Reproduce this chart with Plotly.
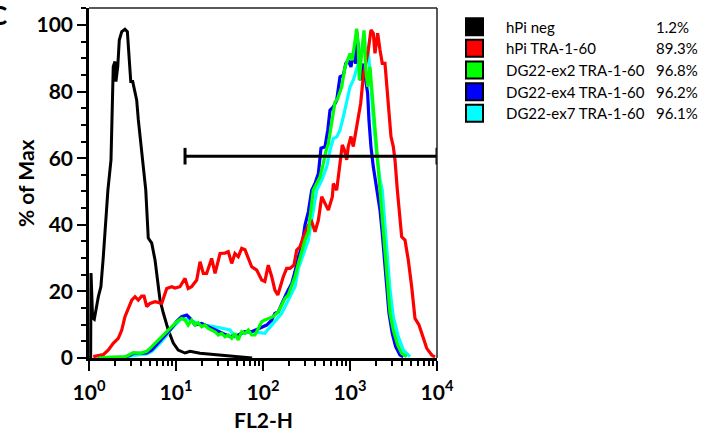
import plotly.graph_objects as go

# ---------------- data (FL2-H intensity, % of max) ----------------
hpi_neg = [(1.045, 0), (1.055, 25.5), (1.10, 12.0), (1.15, 11.6), (1.28, 18.4), (1.37, 21.4),
           (1.46, 30.4), (1.56, 40.5), (1.65, 50.5), (1.79, 59.5), (1.85, 71.5), (1.90, 87.5),
           (1.99, 89.0), (2.04, 83.0), (2.14, 87.5), (2.23, 95.5), (2.38, 98.0), (2.59, 98.7),
           (2.76, 98.0), (2.88, 91.6), (3.02, 83.0), (3.18, 83.0), (3.38, 79.6), (3.53, 77.5),
           (3.69, 71.5), (3.96, 63.5), (4.21, 57.5), (4.49, 50.5), (4.80, 36.0), (5.26, 34.5),
           (5.74, 29.4), (6.16, 22.5), (6.55, 17.4), (7.15, 13.5), (8.15, 8.4), (9.31, 4.5),
           (10.6, 2.4), (12.7, 1.5), (14.5, 2.0), (18.9, 1.4), (26.6, 1.0), (41.8, 0.5),
           (60.0, 0.1), (75.0, 0)]

hpi_tra = [(1.12, 0.4), (1.46, 1.0), (1.67, 2.4), (1.90, 4.4), (2.17, 5.9), (2.38, 8.4), (2.59, 12.4),
           (2.83, 14.9), (3.10, 17.4), (3.38, 18.4), (3.69, 17.4), (4.03, 18.6), (4.29, 18.6),
           (4.61, 15.4), (5.02, 16.4), (5.74, 16.9), (6.85, 16.4), (7.82, 20.9), (8.93, 21.4),
           (9.74, 21.0), (11.1, 21.4), (12.7, 23.9), (13.8, 20.9), (15.1, 21.4), (17.3, 23.4),
           (18.9, 28.9), (20.6, 25.4), (22.5, 25.4), (25.7, 29.9), (28.1, 25.4), (32.1, 31.4),
           (36.6, 31.5), (39.9, 31.9), (43.7, 28.4), (47.6, 31.4), (52.0, 30.4), (56.9, 32.9),
           (62.1, 32.5), (67.8, 30.0), (74.1, 27.4), (84.7, 26.4), (96.6, 23.4), (105, 23.0),
           (115, 27.9), (126, 24.4), (137, 20.4), (148, 18.9), (157, 21.4), (171, 24.4),
           (187, 26.9), (204, 26.9), (227, 27.9), (244, 32.4), (266, 33.4), (291, 36.4),
           (332, 39.9), (363, 40.9), (396, 37.9), (433, 41.4), (473, 48.4), (516, 46.4),
           (564, 44.4), (627, 48.4), (643, 52.4), (703, 50.4), (767, 58.4), (815, 64.0),
           (860, 62.5), (916, 59.5), (955, 63.5), (1026, 66.5), (1091, 63.5), (1164, 67.5),
           (1245, 71.5), (1327, 76.5), (1422, 84.5), (1514, 88.5), (1622, 92.5), (1742, 98.5),
           (1853, 97.5), (1937, 91.5), (2080, 97.5), (2213, 92.5), (2350, 88.5), (2523, 88.5),
           (2640, 81.5), (2807, 71.5), (2958, 66.5), (3145, 63.5), (3289, 59.5), (3499, 50.5),
           (3757, 42.4), (3928, 36.4), (4287, 35.4), (4677, 29.4), (5117, 21.4), (5585, 11.9),
           (6209, 9.9), (6966, 5.9), (7621, 2.9), (8695, 0.9), (9485, 0.3)]

dg22_ex2 = [(1.28, 0), (1.74, 0.3), (2.59, 0.3), (2.96, 1.0), (3.23, 1.6), (3.86, 1.4), (4.61, 2.0),
            (5.26, 3.4), (6.00, 4.9), (6.85, 6.4), (7.82, 7.9), (8.93, 9.4), (10.2, 10.9),
            (11.6, 11.9), (12.7, 11.4), (13.8, 9.9), (15.1, 11.4), (16.5, 9.9), (18.0, 10.6),
            (19.7, 9.4), (21.5, 9.9), (23.5, 8.9), (25.7, 8.4), (28.1, 7.9), (30.6, 6.9),
            (33.5, 7.4), (36.6, 6.4), (39.9, 6.9), (43.7, 5.9), (47.6, 7.4), (52.0, 5.4),
            (56.9, 7.9), (62.1, 7.4), (67.8, 8.4), (74.1, 6.9), (80.9, 6.9), (88.3, 8.9),
            (96.6, 10.9), (105, 11.4), (115, 11.9), (131, 12.4), (150, 13.9), (164, 15.9),
            (179, 17.9), (195, 18.9), (214, 21.9), (233, 24.4), (255, 28.4), (279, 32.4),
            (304, 35.4), (332, 37.9), (356, 45.0), (378, 50.4), (414, 52.4), (452, 54.4),
            (493, 58.4), (526, 61.9), (564, 64.4), (617, 71.4), (673, 76.9), (722, 77.9),
            (803, 81.4), (877, 87.4), (942, 89.4), (1000, 91.4), (1062, 89.4), (1119, 93.4),
            (1194, 98.9), (1245, 93.4), (1279, 83.4), (1361, 91.4), (1449, 98.4), (1514, 87.4),
            (1596, 81.4), (1698, 87.4), (1774, 81.4), (1871, 73.4), (1972, 64.4), (2113, 55.4),
            (2213, 50.4), (2350, 42.4), (2523, 32.4), (2710, 21.4), (2884, 13.4), (3145, 8.4),
            (3532, 3.9), (3928, 1.4), (4487, 0.4)]

dg22_ex4 = [(1.28, 0), (2.59, 0.3), (2.96, 0.8), (3.23, 1.4), (3.86, 1.4), (4.61, 1.5), (5.26, 2.4),
            (6.00, 4.0), (6.85, 5.9), (7.82, 7.4), (8.93, 9.0), (10.2, 11.0), (11.6, 12.4),
            (13.3, 12.9), (14.5, 11.9), (16.5, 9.9), (19.7, 10.4), (23.5, 9.4), (28.1, 8.4),
            (33.5, 7.4), (41.8, 6.4), (52.0, 6.9), (62.1, 7.9), (74.1, 7.9), (92.4, 8.9),
            (110, 9.9), (126, 11.4), (137, 13.4), (150, 13.9), (164, 16.4), (179, 18.4),
            (195, 20.4), (214, 22.4), (233, 25.9), (255, 30.4), (279, 33.4), (304, 39.9),
            (332, 43.9), (363, 50.4), (396, 52.4), (433, 55.4), (464, 63.0), (516, 63.4),
            (555, 68.4), (589, 74.4), (643, 75.4), (703, 77.4), (767, 84.4), (838, 84.9),
            (893, 88.4), (955, 89.4), (1026, 87.4), (1091, 91.4), (1164, 88.4), (1194, 98.0),
            (1245, 93.4), (1327, 83.4), (1422, 88.4), (1514, 83.4), (1596, 79.4), (1652, 71.4),
            (1742, 63.4), (1853, 57.4), (2028, 50.4), (2213, 44.4), (2350, 37.4), (2477, 30.4),
            (2640, 21.4), (2807, 13.4), (3062, 7.4), (3350, 3.4), (3757, 0.9), (4100, 0.4)]

dg22_ex7 = [(1.28, 0), (2.59, 0.2), (3.23, 0.8), (4.61, 1.2), (5.26, 2.0), (6.00, 3.5), (6.85, 5.0),
            (7.82, 6.9), (8.93, 8.9), (10.2, 10.4), (11.6, 11.9), (14.5, 11.4), (18.0, 10.4),
            (21.5, 9.9), (28.1, 9.4), (41.8, 8.4), (47.6, 6.4), (56.9, 7.4), (77.4, 7.9),
            (105, 7.4), (126, 9.9), (144, 11.4), (164, 13.4), (187, 16.4), (214, 19.4),
            (233, 21.4), (255, 26.9), (291, 31.4), (332, 35.4), (366, 42.0), (414, 50.4),
            (473, 53.4), (540, 57.4), (589, 62.4), (643, 65.9), (703, 66.4), (767, 68.4),
            (838, 72.4), (916, 77.4), (1000, 81.4), (1091, 83.4), (1194, 86.4), (1279, 89.4),
            (1361, 92.4), (1459, 97.4), (1528, 90.4), (1622, 92.4), (1742, 81.4), (1853, 71.4),
            (2028, 61.4), (2213, 53.4), (2350, 50.4), (2523, 40.4), (2710, 30.4), (2884, 20.4),
            (3145, 12.4), (3589, 6.4), (4100, 2.4), (4898, 0.4)]

legend_labels = ["hPi neg", "hPi TRA-1-60", "DG22-ex2 TRA-1-60", "DG22-ex4 TRA-1-60", "DG22-ex7 TRA-1-60"]
legend_percents = ["1.2%", "89.3%", "96.8%", "96.2%", "96.1%"]
legend_colors = ["#000000", "#FF0000", "#00FF00", "#0000FF", "#00FFFF"]

gate_range = [12.7, 10000]
gate_level = 60.6
gate_cap = 2.5

x_major_vals = [1, 10, 100, 1000, 10000]
x_major_text = ["10<sup>0</sup>", "10<sup>1</sup>", "10<sup>2</sup>", "10<sup>3</sup>", "10<sup>4</sup>"]
x_minor_vals = [m * d for d in [1, 10, 100, 1000] for m in range(2, 10)]
y_major_vals = [0, 20, 40, 60, 80, 100]

# ---------------- figure ----------------
FONT = "Lato, 'Open Sans', Arial, sans-serif"
fig = go.Figure()

# draw order: black, cyan, blue, red, green
order = [(hpi_neg, legend_colors[0], 3.0), (dg22_ex7, legend_colors[4], 3.2),
         (dg22_ex4, legend_colors[3], 3.2), (hpi_tra, legend_colors[1], 3.2),
         (dg22_ex2, legend_colors[2], 3.2)]
for pts, col, w in order:
    xs = [p[0] for p in pts]
    ys = [p[1] for p in pts]
    fig.add_trace(go.Scatter(x=xs, y=ys, mode="lines", line=dict(color=col, width=w),
                             showlegend=False, hoverinfo="skip"))

# gate bar
fig.add_trace(go.Scatter(x=gate_range, y=[gate_level, gate_level], mode="lines",
                         line=dict(color="black", width=3), showlegend=False, hoverinfo="skip"))
for gx in gate_range:
    fig.add_trace(go.Scatter(x=[gx, gx], y=[gate_level - gate_cap, gate_level + gate_cap], mode="lines",
                             line=dict(color="black", width=3), showlegend=False, hoverinfo="skip"))

L, R, T, B = 89, 275, 8, 76
W, H = 712, 434
pw, ph = W - L - R, H - T - B

def px_x(px):
    return (px - L) / pw

def px_y(py):
    return (H - B - py) / ph

fig.update_layout(
    width=W, height=H,
    margin=dict(l=L, r=R, t=T, b=B, pad=0, autoexpand=False),
    paper_bgcolor="white", plot_bgcolor="white",
    font=dict(family=FONT, color="black"),
    xaxis=dict(type="log", range=[0, 4], showgrid=False, zeroline=False,
               showline=True, linecolor="black", linewidth=2.5,
               ticks="outside", ticklen=10, tickwidth=2, tickcolor="black",
               tickvals=x_major_vals, ticktext=x_major_text,
               tickfont=dict(family=FONT, size=21, weight="bold", color="black"),
               ticklabelstandoff=4,
               minor=dict(tickvals=x_minor_vals, ticks="outside", ticklen=5, tickwidth=2,
                          tickcolor="black", showgrid=False)),
    yaxis=dict(range=[0, 105.1], showgrid=False, zeroline=False,
               showline=True, linecolor="black", linewidth=2.5,
               ticks="outside", ticklen=9, tickwidth=2, tickcolor="black",
               tickvals=y_major_vals,
               tickfont=dict(family=FONT, size=21, weight="bold", color="black"),
               ticklabelstandoff=0,
               minor=dict(dtick=5, ticks="outside", ticklen=5, tickwidth=2,
                          tickcolor="black", showgrid=False)),
)

shapes = [
    dict(type="line", xref="paper", yref="paper", x0=0, x1=1, y0=1, y1=1,
         line=dict(color="#222", width=1.5)),
    dict(type="line", xref="paper", yref="paper", x0=1, x1=1, y0=0, y1=1,
         line=dict(color="#222", width=1.5)),
]
annotations = [
    dict(text="<b>FL2-H</b>", xref="paper", yref="paper", x=0.5, y=px_y(419),
         xanchor="center", yanchor="middle", showarrow=False,
         font=dict(family=FONT, size=21, color="black")),
    dict(text="<b>% of Max</b>", xref="paper", yref="paper", x=px_x(25), y=0.5,
         xanchor="center", yanchor="middle", textangle=-90, showarrow=False,
         font=dict(family=FONT, size=21, color="black")),
    dict(text="<b>C</b>", xref="paper", yref="paper", x=px_x(9), y=px_y(15),
         xanchor="right", yanchor="middle", showarrow=False,
         font=dict(family=FONT, size=26, color="black")),
]

row_centers = [26.7, 48.3, 70.0, 91.7, 113.3]
for lab, pct, col, cy in zip(legend_labels, legend_percents, legend_colors, row_centers):
    shapes.append(dict(type="rect", xref="paper", yref="paper",
                       x0=px_x(466), x1=px_x(483), y0=px_y(cy + 8.5), y1=px_y(cy - 8.5),
                       fillcolor=col, line=dict(color="black", width=2)))
    annotations.append(dict(text=lab, xref="paper", yref="paper", x=px_x(504), y=px_y(cy),
                            xanchor="left", yanchor="middle", showarrow=False,
                            font=dict(family=FONT, size=15, color="black")))
    annotations.append(dict(text=pct, xref="paper", yref="paper", x=px_x(654), y=px_y(cy),
                            xanchor="left", yanchor="middle", showarrow=False,
                            font=dict(family=FONT, size=15, color="black")))

fig.update_layout(shapes=shapes, annotations=annotations)
fig.write_html("out.html", config={"displayModeBar": False},
               post_script="document.body.style.margin='0';")
